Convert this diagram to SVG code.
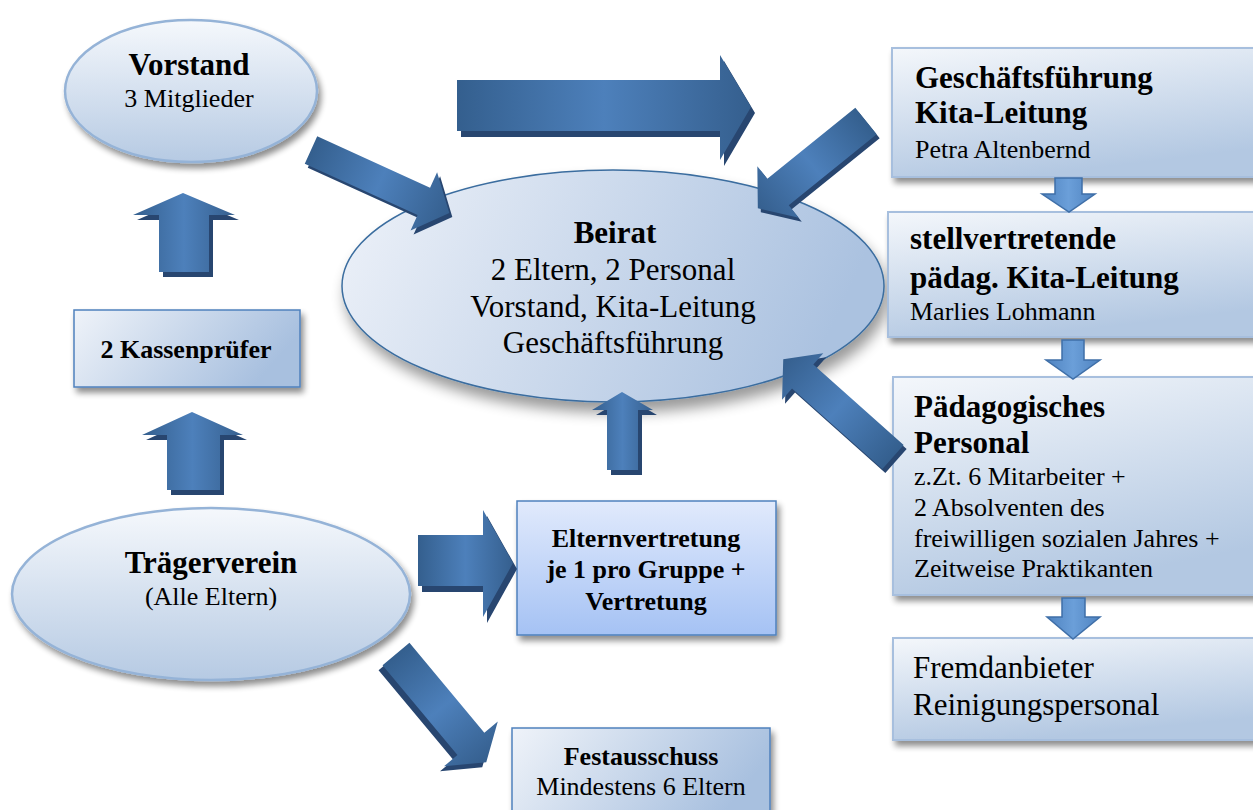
<svg xmlns="http://www.w3.org/2000/svg" width="1253" height="810" viewBox="0 0 1253 810">
<defs>
<linearGradient id="gEll" x1="0" y1="0" x2="0" y2="1"><stop offset="0" stop-color="#f5f8fc"/><stop offset="1" stop-color="#b6cae3"/></linearGradient>
<linearGradient id="gBeirat" x1="0" y1="0" x2="1" y2="0.2"><stop offset="0" stop-color="#eef2f9"/><stop offset="1" stop-color="#abc2e0"/></linearGradient>
<linearGradient id="gBox" x1="0" y1="0" x2="0.35" y2="1"><stop offset="0" stop-color="#f4f7fb"/><stop offset="1" stop-color="#b3c8e2"/></linearGradient>
<linearGradient id="gBoxH" x1="0" y1="0" x2="1" y2="0.3"><stop offset="0" stop-color="#eff3f9"/><stop offset="1" stop-color="#a8c0df"/></linearGradient>
<linearGradient id="gEltern" x1="0" y1="0" x2="0" y2="1"><stop offset="0" stop-color="#e1eafc"/><stop offset="1" stop-color="#a5c2f4"/></linearGradient>
<linearGradient id="gArrow" x1="0" y1="0" x2="1" y2="0"><stop offset="0" stop-color="#345f8e"/><stop offset="0.5" stop-color="#4d80bb"/><stop offset="1" stop-color="#355f8e"/></linearGradient>
<linearGradient id="gSmall" x1="0" y1="0" x2="1" y2="0"><stop offset="0" stop-color="#4f83c0"/><stop offset="0.5" stop-color="#6b9fd9"/><stop offset="1" stop-color="#4f83c0"/></linearGradient>
<filter id="sh" x="-20%" y="-20%" width="150%" height="160%">
<feGaussianBlur in="SourceAlpha" stdDeviation="3"/>
<feOffset dx="3" dy="5"/>
<feComponentTransfer><feFuncA type="linear" slope="0.45"/></feComponentTransfer>
<feMerge><feMergeNode/><feMergeNode in="SourceGraphic"/></feMerge>
</filter>
<filter id="shBig" x="-20%" y="-20%" width="140%" height="160%">
<feGaussianBlur in="SourceAlpha" stdDeviation="7"/>
<feOffset dx="4" dy="10"/>
<feComponentTransfer><feFuncA type="linear" slope="0.4"/></feComponentTransfer>
<feMerge><feMergeNode/><feMergeNode in="SourceGraphic"/></feMerge>
</filter>
</defs>
<style>
.b{font-family:"Liberation Serif","Times New Roman",serif;font-weight:bold;fill:#000}
.r{font-family:"Liberation Serif","Times New Roman",serif;fill:#000}
.c{text-anchor:middle}
.ell{fill:url(#gEll);stroke:#95b3d7;stroke-width:2.5;filter:url(#sh)}
.box{fill:url(#gBox);stroke:#a7bfde;stroke-width:2;filter:url(#sh)}
.boxh{fill:url(#gBoxH);stroke:#4f81bd;stroke-width:1.5;filter:url(#sh)}
.arr{fill:url(#gArrow)}
.ash{fill:#284670}
.sm{fill:url(#gSmall);stroke:#3f6fa8;stroke-width:1.5}
</style>
<rect width="1253" height="810" fill="#ffffff"/>

<g id="vorstand">
<ellipse class="ell" cx="191" cy="91" rx="126" ry="71"/>
<text class="b c" x="189" y="75" font-size="31">Vorstand</text>
<text class="r c" x="189" y="107" font-size="26">3 Mitglieder</text>
</g>

<g id="beirat">
<ellipse cx="613" cy="286" rx="271" ry="116" fill="url(#gBeirat)" stroke="#3b6d9f" stroke-width="1.5" filter="url(#shBig)"/>
<text class="b c" x="615" y="243" font-size="31">Beirat</text>
<text class="r c" x="613" y="280" font-size="31">2 Eltern, 2 Personal</text>
<text class="r c" x="613" y="317" font-size="31">Vorstand, Kita-Leitung</text>
<text class="r c" x="613" y="353" font-size="31">Geschäftsführung</text>
</g>

<g id="kassenpruefer">
<rect class="boxh" x="74" y="310" width="226" height="77"/>
<text class="b c" x="186" y="358" font-size="26">2 Kassenprüfer</text>
</g>

<g id="traegerverein">
<ellipse class="ell" cx="211" cy="594" rx="199" ry="86"/>
<text class="b c" x="211" y="573" font-size="31">Trägerverein</text>
<text class="r c" x="211" y="605" font-size="26">(Alle Eltern)</text>
</g>

<g id="elternvertretung">
<rect x="517" y="501" width="259" height="134" fill="url(#gEltern)" stroke="#4f81bd" stroke-width="1.5" filter="url(#sh)"/>
<text class="b c" x="646" y="547" font-size="26">Elternvertretung</text>
<text class="b c" x="646" y="578" font-size="26">je 1 pro Gruppe +</text>
<text class="b c" x="646" y="610" font-size="26">Vertretung</text>
</g>

<g id="festausschuss">
<rect class="boxh" x="512" y="728" width="258" height="95"/>
<text class="b c" x="641" y="765" font-size="26">Festausschuss</text>
<text class="r c" x="641" y="795" font-size="26">Mindestens 6 Eltern</text>
</g>

<g id="geschaeftsfuehrung">
<rect class="box" x="892" y="48" width="370" height="129"/>
<text class="b" x="915" y="88" font-size="31">Geschäftsführung</text>
<text class="b" x="915" y="123" font-size="31">Kita-Leitung</text>
<text class="r" x="915" y="158" font-size="26">Petra Altenbernd</text>
</g>

<g id="stellvertretung">
<rect class="box" x="888" y="212" width="374" height="125"/>
<text class="b" x="910" y="249" font-size="31">stellvertretende</text>
<text class="b" x="910" y="288" font-size="31">pädag. Kita-Leitung</text>
<text class="r" x="910" y="320" font-size="26">Marlies Lohmann</text>
</g>

<g id="paedagogisches-personal">
<rect class="box" x="893" y="377" width="369" height="218"/>
<text class="b" x="914" y="417" font-size="31">Pädagogisches</text>
<text class="b" x="914" y="453" font-size="31">Personal</text>
<text class="r" x="914" y="485" font-size="26">z.Zt. 6 Mitarbeiter +</text>
<text class="r" x="914" y="516" font-size="26">2 Absolventen des</text>
<text class="r" x="914" y="547" font-size="26">freiwilligen sozialen Jahres +</text>
<text class="r" x="914" y="577" font-size="26">Zeitweise Praktikanten</text>
</g>

<g id="fremdanbieter">
<rect class="box" x="893" y="638" width="369" height="102"/>
<text class="r" x="913" y="678" font-size="31">Fremdanbieter</text>
<text class="r" x="913" y="715" font-size="31">Reinigungspersonal</text>
</g>

<g id="connectors">
<!-- top big arrow -->
<path class="ash" d="M461,86 H724 V61 L755,113 L724,166 V137 H461 Z"/>
<path class="arr" d="M457,80 H720 V55 L751,107 L720,160 V131 H457 Z"/>
<!-- Vorstand -> Beirat -->
<g transform="translate(3,4)"><path class="ash" transform="translate(311,150) rotate(24.5)" d="M0,-15 H124 V-32 L152,0 L124,32 V15 H0 Z"/></g>
<path class="arr" transform="translate(311,150) rotate(24.5)" d="M0,-15 H124 V-32 L152,0 L124,32 V15 H0 Z"/>
<!-- Geschaeftsfuehrung -> Beirat -->
<g transform="translate(3,4)"><path class="ash" transform="translate(866,121) rotate(141.1)" d="M0,-17 H113 V-33 L139,0 L113,33 V17 H0 Z"/></g>
<path class="arr" transform="translate(866,121) rotate(141.1)" d="M0,-17 H113 V-33 L139,0 L113,33 V17 H0 Z"/>
<!-- Paedagogisches Personal -> Beirat -->
<g transform="translate(3,4)"><path class="ash" transform="translate(893,457) rotate(-138.3)" d="M0,-16 H121 V-31 L147,0 L121,31 V16 H0 Z"/></g>
<path class="arr" transform="translate(893,457) rotate(-138.3)" d="M0,-16 H121 V-31 L147,0 L121,31 V16 H0 Z"/>
<!-- Elternvertretung -> Beirat -->
<path class="ash" d="M626,397 L657,415 H642 V475 H611 V415 H596 Z"/>
<path class="arr" d="M622,392 L653,410 H638 V470 H607 V410 H592 Z"/>
<!-- Kassenpruefer -> Vorstand -->
<path class="ash" d="M187,198 L239,220 H213 V277 H163 V220 H137 Z"/>
<path class="arr" d="M183,193 L235,215 H209 V272 H159 V215 H133 Z"/>
<!-- Traegerverein -> Kassenpruefer -->
<path class="ash" d="M196,417 L247,440 H224 V495 H171 V440 H146 Z"/>
<path class="arr" d="M192,412 L243,435 H220 V490 H167 V435 H142 Z"/>
<!-- Traegerverein -> Elternvertretung -->
<path class="ash" d="M422,541 H487 V516 L517,569 L487,623 V592 H422 Z"/>
<path class="arr" d="M418,535 H483 V510 L513,563 L483,617 V586 H418 Z"/>
<!-- Traegerverein -> Festausschuss -->
<g transform="translate(-4,5)"><path class="ash" transform="translate(396,654) rotate(50.2)" d="M0,-17.5 H117 V-35 L141,0 L117,35 V17.5 H0 Z"/></g>
<path class="arr" transform="translate(396,654) rotate(50.2)" d="M0,-17.5 H117 V-35 L141,0 L117,35 V17.5 H0 Z"/>
<!-- small down arrows right column -->
<path class="sm" d="M1055,178 H1082 V194 H1095 L1069,212 L1042,194 H1055 Z"/>
<path class="sm" d="M1062,340 H1084 V360 H1100 L1073,379 L1046,360 H1062 Z"/>
<path class="sm" d="M1062,598 H1085 V617 H1100 L1073,639 L1047,617 H1062 Z"/>
</g>
</svg>
